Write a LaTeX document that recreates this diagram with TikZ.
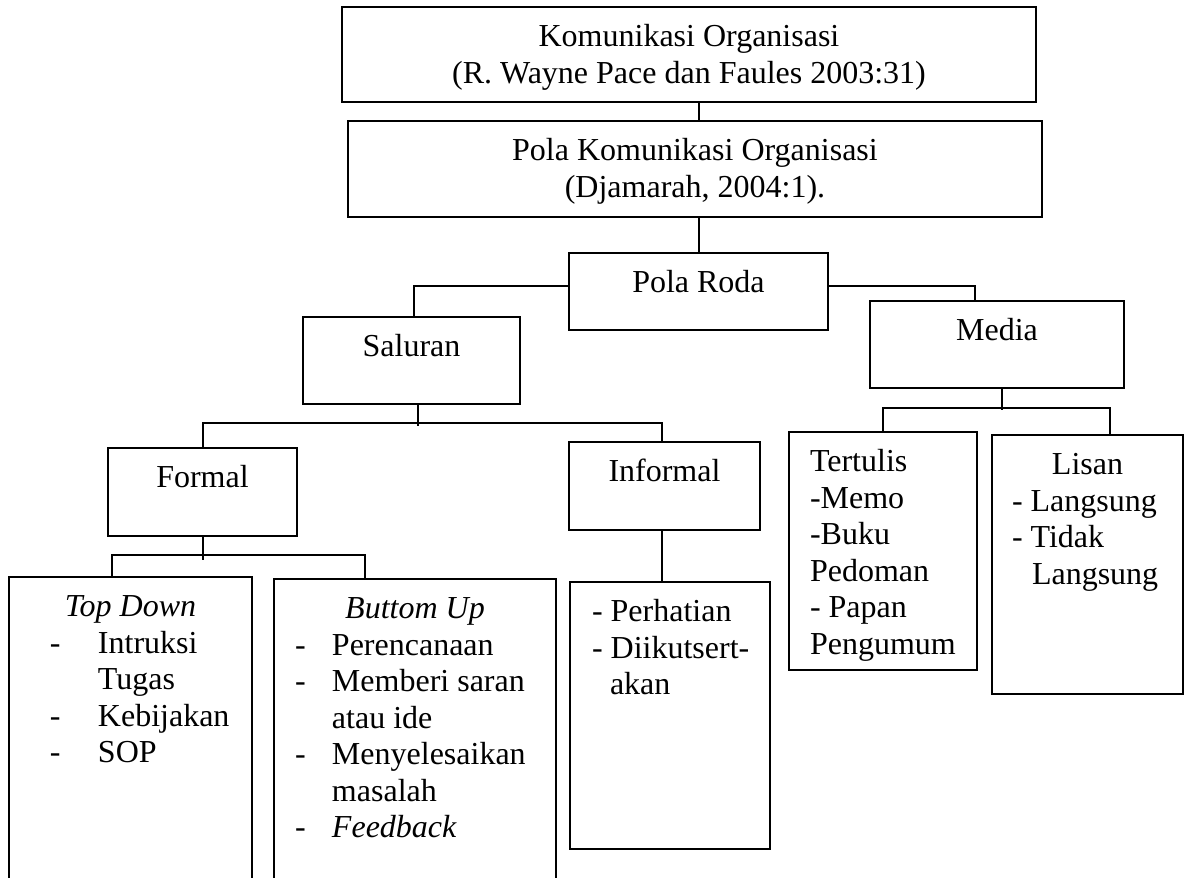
\documentclass[tikz,border=0pt]{standalone}
\usepackage{fontspec}
\setmainfont{Liberation Serif}
\newlength{\pxu}
\setlength{\pxu}{0.375pt}

\begin{document}
\begin{tikzpicture}[x=0.375pt, y=-0.375pt,
		box/.style={draw, line width=0.9pt, inner sep=0pt, outer sep=0pt, anchor=north west, font=\fontsize{12pt}{13.7pt}\selectfont},
		link/.style={line width=0.75pt}]
		
		\path[use as bounding box, clip] (0,0) rectangle (1188,877);
		
		% upper levels
		\node[box] (komunikasi) at (342,7) {\parbox[c][95\pxu][t]{694\pxu}{\vspace*{14\pxu}\centering\strut Komunikasi Organisasi\\(R. Wayne Pace dan Faules 2003:31)}};
		\node[box] (pola) at (348,121) {\parbox[c][96\pxu][t]{694\pxu}{\vspace*{14\pxu}\centering\strut Pola Komunikasi Organisasi\\(Djamarah, 2004:1).}};
		\node[box] (roda) at (569,253) {\parbox[c][77\pxu][t]{259\pxu}{\vspace*{14\pxu}\centering\strut Pola Roda}};
		\node[box] (saluran) at (303,317) {\parbox[c][87\pxu][t]{217\pxu}{\vspace*{14\pxu}\centering\strut Saluran}};
		\node[box] (media) at (870,301) {\parbox[c][87\pxu][t]{254\pxu}{\vspace*{14\pxu}\centering\strut Media}};
		\node[box] (formal) at (108,448) {\parbox[c][88\pxu][t]{189\pxu}{\vspace*{14\pxu}\centering\strut Formal}};
		\node[box] (informal) at (569,442) {\parbox[c][88\pxu][t]{191\pxu}{\vspace*{14\pxu}\centering\strut Informal}};
		
		% lists at the bottom
		\node[box] (topdown) at (9,577) {\parbox[c][340\pxu][t]{243\pxu}{\vspace*{14\pxu}\strut\makebox[\linewidth]{\textit{Top Down}}\\
				\hspace*{41\pxu}\makebox[48\pxu][l]{-}Intruksi\\
				\hspace*{89\pxu}Tugas\\
				\hspace*{41\pxu}\makebox[48\pxu][l]{-}Kebijakan\\
				\hspace*{41\pxu}\makebox[48\pxu][l]{-}SOP}};
		\node[box] (buttomup) at (274,579) {\parbox[c][340\pxu][t]{282\pxu}{\vspace*{14\pxu}\strut\makebox[\linewidth]{\textit{Buttom Up}}\\
				\hspace*{21\pxu}\makebox[37\pxu][l]{-}Perencanaan\\
				\hspace*{21\pxu}\makebox[37\pxu][l]{-}Memberi saran\\
				\hspace*{58\pxu}atau ide\\
				\hspace*{21\pxu}\makebox[37\pxu][l]{-}Menyelesaikan\\
				\hspace*{58\pxu}masalah\\
				\hspace*{21\pxu}\makebox[37\pxu][l]{-}\textit{Feedback}}};
		\node[box] (perhatian) at (570,582) {\parbox[c][267\pxu][t]{200\pxu}{\vspace*{14\pxu}\strut\hspace*{22\pxu}- Perhatian\\
				\hspace*{22\pxu}- Diikutsert-\\
				\hspace*{40\pxu}akan}};
		\node[box] (tertulis) at (789,432) {\parbox[c][238\pxu][t]{188\pxu}{\vspace*{14\pxu}\strut\hspace*{21\pxu}Tertulis\\
				\hspace*{21\pxu}-Memo\\
				\hspace*{21\pxu}-Buku\\
				\hspace*{21\pxu}Pedoman\\
				\hspace*{21\pxu}- Papan\\
				\hspace*{21\pxu}Pengumum}};
		\node[box] (lisan) at (992,435) {\parbox[c][259\pxu][t]{191\pxu}{\vspace*{14\pxu}\strut\makebox[\linewidth]{Lisan}\\
				\hspace*{20\pxu}- Langsung\\
				\hspace*{20\pxu}- Tidak\\
				\hspace*{40\pxu}Langsung}};
		
		% connectors
		\draw[link] (roda.north |- komunikasi.south) -- (roda.north |- pola.north);
		\draw[link] (roda.north |- pola.south) -- (roda.north);
		\draw[link] ([yshift=2pt]roda.west) -| ([xshift=1pt]saluran.north);
		\draw[link] ([yshift=2pt]roda.east) -| ([xshift=-8.25pt]media.north);
		\draw[link] ([xshift=2.4pt]saluran.south) -- ++(0,22);
		\draw[link] (formal.north) -- ++(0,-25) -| ([xshift=-1pt]informal.north);
		\draw[link] (formal.south) -- ++(0,24);
		\draw[link] ([xshift=-7pt]topdown.north) -- ++(0,-22) -| ([xshift=-18.75pt]buttomup.north);
		\draw[link] ([xshift=-1pt]informal.south) -- ([xshift=-1pt]informal.south |- perhatian.north);
		\draw[link] ([xshift=1.9pt]media.south) -- ++(0,22);
		\draw[link] (tertulis.north) -- ++(0,-24) -| ([xshift=8.4pt]lisan.north);
		
	\end{tikzpicture}
\end{document}
